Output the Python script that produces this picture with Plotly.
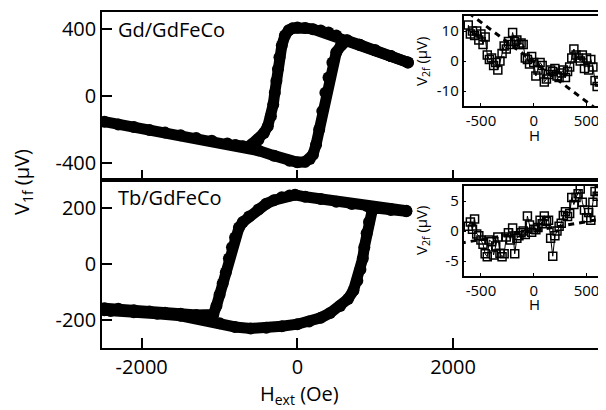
import plotly.graph_objects as go

# ---------------- data ----------------
# Top panel: Gd/GdFeCo, V1f (uV) vs H_ext (Oe)
gd_up_h = [-2480, -2300, -2100, -1900, -1700, -1500, -1300, -1100, -900, -700, -500, -300, -100, 0, 100,
           160, 200, 240, 280, 320, 360, 400, 450, 500, 560, 640, 800, 1000, 1200, 1420]
gd_up_v = [-153, -169, -185, -202, -218, -234, -250, -266, -282, -299, -325, -355, -385, -395, -392,
           -375, -350, -290, -200, -90, 20, 110, 200, 260, 300, 330, 305, 272, 238, 200]
gd_dn_h = [1420, 1200, 1000, 800, 640, 500, 400, 300, 200, 100, 0, -60, -110, -160, -200, -230, -250,
           -270, -290, -310, -340, -380, -430, -500, -580, -646, -800]
gd_dn_v = [200, 238, 272, 305, 332, 360, 378, 390, 398, 405, 408, 404, 392, 360, 300, 230, 160,
           90, 20, -50, -120, -180, -220, -260, -285, -303, -291]

# Bottom panel: Tb/GdFeCo
tb_up_h = [-2480, -2300, -2100, -1900, -1700, -1500, -1300, -1150, -1080, -1040, -1000, -960, -920, -880,
           -840, -800, -750, -700, -620, -500, -400, -300, -200, -100, -30, 100, 300, 500, 700, 900,
           1000, 1200, 1400]
tb_up_v = [-158, -160, -165, -170, -174, -178, -182, -185, -180, -150, -110, -70, -30, 20,
           60, 95, 130, 150, 170, 195, 215, 228, 238, 245, 247, 240, 232, 222, 214, 206,
           202, 196, 190]
tb_dn_h = [1400, 1200, 1000, 960, 920, 890, 860, 840, 810, 770, 720, 650, 550, 420, 300, 150, 0,
           -200, -400, -600, -800, -1000, -1200, -1500, -1800, -2100, -2400, -2480]
tb_dn_v = [188, 193, 200, 190, 150, 110, 60, 20, -20, -60, -95, -125, -150, -175, -192, -205, -215,
           -222, -228, -230, -225, -212, -195, -185, -178, -172, -168, -165]

# Insets: V2f (uV) vs H
inset_h = [-620, -600, -580, -560, -540, -520, -500, -480, -460, -440, -420, -400, -380, -360, -340,
           -320, -300, -280, -260, -240, -220, -200, -180, -160, -140, -120, -100, -80, -60, -40,
           -20, 0, 20, 40, 60, 80, 100, 120, 140, 160, 180, 200, 220, 240, 260, 280, 300, 320,
           340, 360, 380, 400, 420, 440, 460, 480, 500, 520, 540, 560, 580, 600, 620]
gd_v2f = [12, 9, 10, 8.5, 10, 7, 9, 5.5, 8, 2, 0.5, 1, -1.5, -0.5, -3,
          0, 2.5, 5, 4, 6.5, 5.5, 9.5, 6.5, 7, 5.5, 6, 5.5, 1, 0.5, -1,
          1.5, -0.5, -5, -3, -0.5, -1.5, -7, -6, -4.5, -3, -3.5, -2.5, -5, -5.5, -4, -3, -5.5, -3.5,
          -2, 1, 4, 2, 1, 0, 2, -2.5, 1, -3, 0.5, -2, -6.5, -8.5, -7]
tb_v2f = [0.8, 1.5, 0.3, 2, -0.5, -0.8, -1.5, -2.2, -3.8, -4.3, -1.5, -1.8, -4, -2.5, -1,
          -3.7, -4.3, -3.8, -1, -0.3, -1.5, 0.5, -3.8, -1.2, -0.8, -0.3, 0, -0.6, 2.5, 1,
          -0.2, 0.3, 0.2, 0.6, 1.8, 1.2, 2.5, 1.6, 1.8, -1.2, -4.2, -0.8, 0, 0.8, 1.3, 2.6, 3.2, 2.4,
          2.9, 5.6, 4.4, 5.6, 6.2, 7, 4.8, 3.5, 2.2, 3.1, 1.8, 4.8, 6.6, 5.8, 6.8]
# linear fits (dashed)
fit_h = [-700, 700]
gd_fit = [18.25, -18.85]
tb_fit = [-2.04, 2.16]

# ---------------- figure ----------------
OFF = 8  # default page body margin
W, H = 606 - OFF, 410 - OFF
FONT = "Open Sans"
fig = go.Figure()

def px_x(p):
    return (p - OFF) / W

def px_y(p):
    return (H - (p - OFF)) / H

big = dict(mode="lines+markers", line=dict(color="black", width=11),
           marker=dict(color="black", size=12), showlegend=False, hoverinfo="skip")

fig.add_trace(go.Scatter(x=gd_up_h, y=gd_up_v, xaxis="x2", yaxis="y2", **big))
fig.add_trace(go.Scatter(x=gd_dn_h, y=gd_dn_v, xaxis="x2", yaxis="y2", **big))
fig.add_trace(go.Scatter(x=tb_up_h, y=tb_up_v, xaxis="x", yaxis="y", **big))
fig.add_trace(go.Scatter(x=tb_dn_h, y=tb_dn_v, xaxis="x", yaxis="y", **big))

sq = dict(mode="lines+markers", line=dict(color="black", width=1),
          marker=dict(symbol="square-open", color="black", size=8, line=dict(width=1.5)),
          showlegend=False, hoverinfo="skip")
dash = dict(mode="lines", line=dict(color="black", width=3, dash="6px,5px"),
            showlegend=False, hoverinfo="skip")

fig.add_trace(go.Scatter(x=fit_h, y=gd_fit, xaxis="x3", yaxis="y3", **dash))
fig.add_trace(go.Scatter(x=inset_h, y=gd_v2f, xaxis="x3", yaxis="y3", **sq))
fig.add_trace(go.Scatter(x=fit_h, y=tb_fit, xaxis="x4", yaxis="y4", **dash))
fig.add_trace(go.Scatter(x=inset_h, y=tb_v2f, xaxis="x4", yaxis="y4", **sq))

main_ax = dict(showline=True, linecolor="black", linewidth=1.5, ticks="inside", ticklen=10,
               tickwidth=1.5, tickcolor="black", showgrid=False, zeroline=False,
               tickfont=dict(family=FONT, size=20, color="black"))
inset_ax = dict(showline=True, linecolor="black", linewidth=1.5, mirror=True, ticks="inside",
                ticklen=3, tickwidth=1, tickcolor="black", showgrid=False, zeroline=False,
                tickfont=dict(family=FONT, size=15, color="black"))

xdom = [px_x(102), 1.0]
fig.update_layout(
    width=W, height=H, margin=dict(l=0, r=0, t=0, b=0),
    paper_bgcolor="white", plot_bgcolor="rgba(0,0,0,0)",
    xaxis=dict(domain=xdom, anchor="y", range=[-2510, 3965], tickvals=[-2000, 0, 2000],
               ticktext=["-2000", "0", "2000"], mirror=True, **main_ax),
    yaxis=dict(domain=[px_y(348), px_y(180)], anchor="x", range=[-300, 300],
               tickvals=[-200, 0, 200], ticktext=["-200", "0", "200"], **main_ax),
    xaxis2=dict(domain=xdom, anchor="y2", matches="x", tickvals=[-2000, 0, 2000],
                showticklabels=False, mirror=True, **main_ax),
    yaxis2=dict(domain=[px_y(180), px_y(12)], anchor="x2", range=[-500, 500],
                tickvals=[-400, 0, 400], ticktext=["-400", "0", "400"], **main_ax),
    xaxis3=dict(domain=[px_x(463.5), px_x(604)], anchor="y3", range=[-665, 665],
                tickvals=[-500, 0, 500], ticktext=["-500", "0", "500"], ticklabelstandoff=0,
                **inset_ax),
    yaxis3=dict(domain=[px_y(106), px_y(16)], anchor="x3", range=[-15, 15],
                tickvals=[-10, 0, 10], ticktext=["-10", "0", "10"], **inset_ax),
    xaxis4=dict(domain=[px_x(463.5), px_x(604)], anchor="y4", range=[-665, 665],
                tickvals=[-500, 0, 500], ticktext=["-500", "0", "500"], ticklabelstandoff=0,
                **inset_ax),
    yaxis4=dict(domain=[px_y(276), px_y(186)], anchor="x4", range=[-7.5, 7.5],
                tickvals=[-5, 0, 5], ticktext=["-5", "0", "5"], **inset_ax),
)

ann_font = dict(family=FONT, size=20, color="black")
small_font = dict(family=FONT, size=15, color="black")
annotations = [
    dict(text="Gd/GdFeCo", x=px_x(116), y=px_y(29), xanchor="left", yanchor="middle", font=ann_font),
    dict(text="Tb/GdFeCo", x=px_x(116), y=px_y(198), xanchor="left", yanchor="middle", font=ann_font),
    dict(text="V<sub>1f</sub> (μV)", x=px_x(22), y=px_y(182), textangle=-90, xanchor="center",
         yanchor="middle", font=ann_font),
    dict(text="H<sub>ext</sub> (Oe)", x=px_x(299), y=px_y(394), xanchor="center", yanchor="middle",
         font=ann_font),
    dict(text="V<sub>2f</sub> (μV)", x=px_x(422), y=px_y(62), textangle=-90, xanchor="center",
         yanchor="middle", font=small_font),
    dict(text="V<sub>2f</sub> (μV)", x=px_x(422), y=px_y(231), textangle=-90, xanchor="center",
         yanchor="middle", font=small_font),
    dict(text="H", x=px_x(534), y=px_y(135), xanchor="center", yanchor="middle", font=small_font),
    dict(text="H", x=px_x(534), y=px_y(304), xanchor="center", yanchor="middle", font=small_font),
]
for a in annotations:
    a.update(xref="paper", yref="paper", showarrow=False)
fig.update_layout(annotations=annotations)

fig.write_html("out.html")
